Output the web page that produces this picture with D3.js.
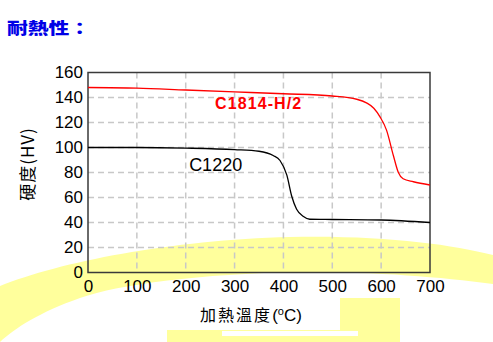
<!DOCTYPE html>
<html>
<head>
<meta charset="utf-8">
<script src="https://cdn.jsdelivr.net/npm/d3@7"></script>
<style>
  body { margin: 0; background: #fff; }
</style>
</head>
<body>
<div id="chart"></div>
<script>
// data
const temps1814 = [0, 100, 200, 300, 400, 500, 550, 570, 585, 598, 611, 625, 635, 645, 666, 700];
const hv1814    = [148, 147.5, 146, 144.5, 143, 141.2, 138.6, 135.7, 131.4, 124.3, 113.9, 93.6, 80.2, 75, 72.6, 70];
const temps1220 = [0, 100, 200, 300, 350, 379, 393, 407, 417, 427, 441, 454, 500, 600, 700];
const hv1220    = [100, 100, 99.5, 98.3, 97, 93.6, 89.6, 77.9, 61, 50.6, 44.8, 42.6, 42.4, 42, 40];
const xTicks = [0, 100, 200, 300, 400, 500, 600, 700];
const yTicks = [0, 20, 40, 60, 80, 100, 120, 140, 160];
const seriesNames = ["C1814-H/2", "C1220"];

function draw(div) {
  const width = 493, height = 342;
  const margin = {top: 72.5, right: 63, bottom: 69.5, left: 88};

  const svg = div.append("svg")
      .attr("width", width)
      .attr("height", height);

  // yellow swoosh of the slide background
  svg.append("path")
      .attr("fill", "#ffff9c")
      .attr("d", "M0,286 C60,262 170,240 290,237 C380,235 450,244 493,255 L493,284 C440,277 380,272 300,272 C200,274 120,284 80,298 C40,312 15,328 0,342 Z");
  svg.append("rect").attr("x", 167).attr("y", 298).attr("width", 233).attr("height", 44).attr("fill", "#ffff9c");
  svg.append("rect").attr("x", 160).attr("y", 292).attr("width", 180).attr("height", 38).attr("fill", "#fff");
  svg.append("rect").attr("x", 222).attr("y", 331).attr("width", 136).attr("height", 5).attr("fill", "#fff");

  // title
  svg.append("text")
      .attr("transform", "translate(7,34) scale(1.3,1)")
      .attr("font-family", "'Noto Sans CJK TC', sans-serif")
      .attr("font-weight", "900")
      .attr("font-size", 16)
      .attr("fill", "#0000e6")
      .text("耐熱性：");

  const x = d3.scaleLinear()
      .domain([0, 700])
      .range([margin.left, width - margin.right]);

  const y = d3.scaleLinear()
      .domain([0, 160])
      .range([height - margin.bottom, margin.top]);

  // grid
  const grid = svg.append("g")
      .attr("stroke", "#c8c8c8")
      .attr("stroke-width", 1.5)
      .attr("stroke-dasharray", "6,4");
  grid.selectAll("line.v")
    .data(xTicks.slice(1, -1))
    .join("line")
      .attr("class", "v")
      .attr("x1", d => x(d)).attr("x2", d => x(d))
      .attr("y1", y(160)).attr("y2", y(0));
  grid.selectAll("line.h")
    .data(yTicks.slice(1, -1))
    .join("line")
      .attr("class", "h")
      .attr("x1", x(0)).attr("x2", x(700))
      .attr("y1", d => y(d)).attr("y2", d => y(d));

  // axes: labels only, no tick marks
  const xAxis = d3.axisBottom(x).tickValues(xTicks).tickSize(0).tickPadding(7);
  svg.append("g")
      .attr("transform", `translate(0, ${y(0)})`)
      .call(xAxis)
      .call(g => g.select(".domain").remove())
      .call(g => g.selectAll("text")
          .attr("font-family", "'Liberation Sans', Arial, sans-serif")
          .attr("font-size", 17)
          .attr("fill", "#000"));

  const yAxis = d3.axisLeft(y).tickValues(yTicks).tickSize(0).tickPadding(5);
  svg.append("g")
      .attr("transform", `translate(${x(0)}, 0)`)
      .call(yAxis)
      .call(g => g.select(".domain").remove())
      .call(g => g.selectAll("text")
          .attr("font-family", "'Liberation Sans', Arial, sans-serif")
          .attr("font-size", 17)
          .attr("fill", "#000"));

  // frame
  svg.append("rect")
      .attr("x", x(0)).attr("y", y(160))
      .attr("width", x(700) - x(0)).attr("height", y(0) - y(160))
      .attr("fill", "none")
      .attr("stroke", "#3a3a3a")
      .attr("stroke-width", 1.5);

  // curves
  const line = d3.line()
      .x(d => x(d[0]))
      .y(d => y(d[1]))
      .curve(d3.curveMonotoneX);

  svg.append("path")
      .datum(d3.zip(temps1814, hv1814))
      .attr("fill", "none")
      .attr("stroke", "#ff0000")
      .attr("stroke-width", 1.3)
      .attr("d", line);

  svg.append("path")
      .datum(d3.zip(temps1220, hv1220))
      .attr("fill", "none")
      .attr("stroke", "#000")
      .attr("stroke-width", 1.3)
      .attr("d", line);

  // series labels
  svg.append("text")
      .attr("x", x(260)).attr("y", y(130.8))
      .attr("font-family", "'Liberation Sans', Arial, sans-serif")
      .attr("font-weight", "bold")
      .attr("font-size", 16)
      .attr("letter-spacing", 1.1)
      .attr("fill", "#ff0000")
      .text(seriesNames[0]);

  svg.append("text")
      .attr("x", x(207)).attr("y", y(81.4))
      .attr("font-family", "'Liberation Sans', Arial, sans-serif")
      .attr("font-size", 18)
      .attr("fill", "#000")
      .text(seriesNames[1]);

  // axis titles
  svg.append("text")
      .attr("transform", "translate(34, 164) rotate(-90)")
      .attr("text-anchor", "middle")
      .attr("font-family", "'Noto Sans CJK TC', 'Liberation Sans', sans-serif")
      .attr("font-size", 17)
      .attr("letter-spacing", 1)
      .attr("fill", "#000")
      .text("硬度(HV)");

  const xt = svg.append("text")
      .attr("x", 251).attr("y", 321)
      .attr("text-anchor", "middle")
      .attr("font-family", "'Noto Sans CJK TC', 'Liberation Sans', sans-serif")
      .attr("font-size", 16)
      .attr("fill", "#000");
  xt.append("tspan").attr("letter-spacing", 2).text("加熱溫度");
  xt.append("tspan").attr("font-family", "'Liberation Sans', Arial, sans-serif").attr("font-size", 17).text("(");
  xt.append("tspan").attr("font-family", "'Liberation Sans', Arial, sans-serif").attr("font-size", 11).attr("dy", -6).text("o");
  xt.append("tspan").attr("font-family", "'Liberation Sans', Arial, sans-serif").attr("font-size", 17).attr("dy", 6).text("C)");
}

draw(d3.select("#chart"));
</script>
</body>
</html>
